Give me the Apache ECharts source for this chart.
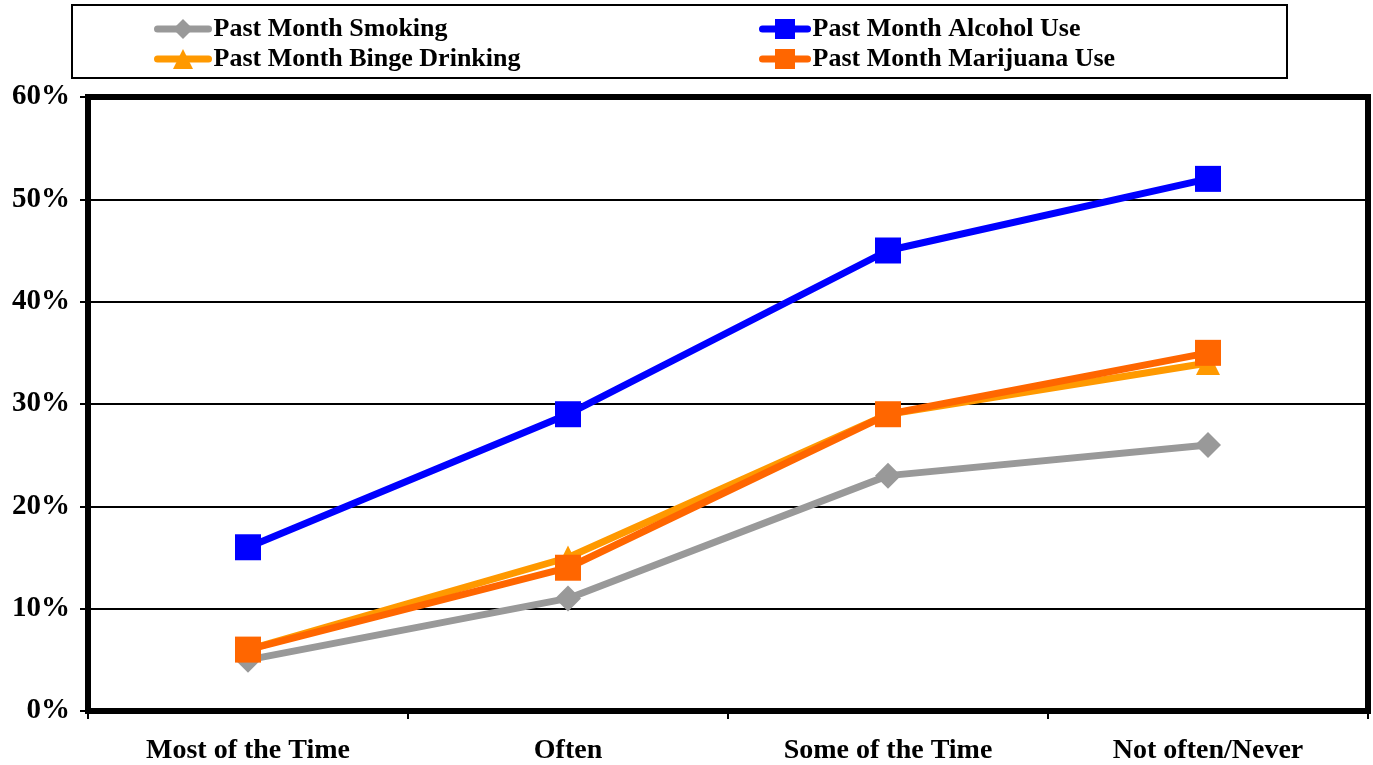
<!DOCTYPE html>
<html><head><meta charset="utf-8">
<script src="https://cdn.jsdelivr.net/npm/echarts@6/dist/echarts.min.js"></script>
<style>html,body{margin:0;padding:0;background:#fff}#c{width:1373px;height:765px}</style>
</head><body><div id="c"></div>
<script>
const categories = ['Most of the Time', 'Often', 'Some of the Time', 'Not often/Never'];
const smoking = [5, 11, 23, 26];
const alcohol = [16, 29, 45, 52];
const binge = [6, 15, 29, 34];
const marijuana = [6, 14, 29, 35];
const yTicks = [0, 10, 20, 30, 40, 50, 60];

const font = '"Liberation Serif", "Times New Roman", serif';
const chart = echarts.init(document.getElementById('c'));
const legendText = {fontFamily: font, fontWeight: 'bold', fontSize: 26, color: '#000'};
function mk(name, data, color, symbol, size) {
  return {name, type: 'line', data, symbol, symbolSize: size, color,
    lineStyle: {width: 7, color}, itemStyle: {color}, z: 3};
}
const legLine = {width: 7, cap: 'round'};
chart.setOption({
  animation: false,
  graphic: [{type: 'rect', shape: {x: 72, y: 5, width: 1215, height: 73},
    style: {fill: '#fff', stroke: '#000', lineWidth: 2}, z: -1}],
  legend: [
    {data: ['Past Month Smoking', 'Past Month Binge Drinking'], orient: 'vertical',
     left: 154, top: 16, itemGap: 4, itemWidth: 51, itemHeight: 25, textStyle: legendText, padding: 0, lineStyle: legLine},
    {data: ['Past Month Alcohol Use', 'Past Month Marijuana Use'], orient: 'vertical',
     left: 759, top: 16, itemGap: 4, itemWidth: 45, itemHeight: 25, textStyle: legendText, padding: 0, lineStyle: legLine}
  ],
  grid: {left: 88, right: 5, top: 97, bottom: 53, show: true, borderColor: '#000', borderWidth: 6, backgroundColor: 'transparent'},
  xAxis: {type: 'category', data: categories, boundaryGap: true,
    axisLine: {lineStyle: {color: '#000', width: 6}},
    axisTick: {show: true, length: 8, lineStyle: {color: '#000', width: 2}},
    axisLabel: {fontFamily: font, fontWeight: 'bold', fontSize: 28, color: '#000', margin: 26}},
  yAxis: {type: 'value', min: 0, max: 60, interval: 10,
    axisLine: {show: true, lineStyle: {color: '#000', width: 6}},
    axisTick: {show: true, length: 8, lineStyle: {color: '#000', width: 2}},
    splitLine: {lineStyle: {color: '#000', width: 2}},
    axisLabel: {fontFamily: font, fontWeight: 'bold', fontSize: 29, color: '#000', margin: 18,
      formatter: v => yTicks.includes(v) ? v + '%' : ''}},
  series: [
    mk('Past Month Smoking', smoking, '#999999', 'diamond', 26),
    mk('Past Month Alcohol Use', alcohol, '#0000FF', 'rect', 26),
    mk('Past Month Binge Drinking', binge, '#FF9900', 'triangle', 24),
    mk('Past Month Marijuana Use', marijuana, '#FF6600', 'rect', 26)
  ]
});
</script></body></html>
